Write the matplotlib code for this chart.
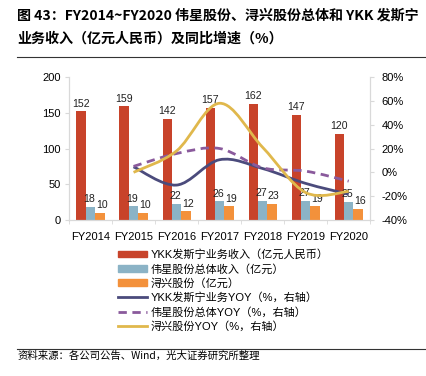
import numpy as np
import matplotlib
matplotlib.use('Agg')
from matplotlib import pyplot as plt
from matplotlib.path import Path
from matplotlib.patches import PathPatch, Patch
from matplotlib.lines import Line2D

plt.rcParams['font.family'] = ['Liberation Sans', 'Noto Sans CJK SC']

# data
years = ['FY2014', 'FY2015', 'FY2016', 'FY2017', 'FY2018', 'FY2019', 'FY2020']
ykk_rev = [152, 159, 142, 157, 162, 147, 120]
wx_rev = [18, 19, 22, 26, 27, 27, 25]
xx_rev = [10, 10, 12, 19, 23, 19, 16]
# YOY from FY2015 on (right axis, %)
ykk_yoy = [4.6, -10.7, 10.6, 3.2, -9.3, -18.4]
wx_yoy = [5.0, 15.8, 20.0, 3.8, 1.0, -7.4]
xx_yoy = [0.0, 18.0, 58.0, 21.0, -17.0, -16.0]

c_red = '#C8432A'
c_blue = '#8BB3C6'
c_orange = '#F3913B'
c_navy = '#4B4B7C'
c_purple = '#8A5A9C'
c_yellow = '#E0B84C'
c_axis = '#D9D9D9'


def smooth_path(x, y):
    # excel style smoothed line: catmull-rom as cubic bezier segments
    pts = np.column_stack([x, y]).astype(float)
    ext = np.vstack([pts[0], pts, pts[-1]])
    verts = [pts[0]]
    codes = [Path.MOVETO]
    for i in range(1, len(ext) - 2):
        p0, p1, p2, p3 = ext[i - 1], ext[i], ext[i + 1], ext[i + 2]
        verts += [p1 + (p2 - p0) / 6, p2 - (p3 - p1) / 6, p2]
        codes += [Path.CURVE4] * 3
    return Path(verts, codes)


fig = plt.figure(figsize=(4.26, 3.76), dpi=100)
ax1 = fig.add_axes([0.162, 0.415, 0.707, 0.380])
ax2 = ax1.twinx()

x = np.arange(len(years))
w = 0.218
b1 = ax1.bar(x - w, ykk_rev, w, color=c_red, zorder=2)
b2 = ax1.bar(x, wx_rev, w, color=c_blue, zorder=2)
b3 = ax1.bar(x + w, xx_rev, w, color=c_orange, zorder=2)
for bars, vals, dx in [(b1, ykk_rev, 0), (b2, wx_rev, -1.2), (b3, xx_rev, 1.2)]:
    for r, v in zip(bars, vals):
        ax1.annotate(str(v), (r.get_x() + r.get_width() / 2, v), xytext=(dx, 2),
                     textcoords='offset points', ha='center', va='bottom',
                     fontsize=7.6, color='#222222', zorder=5)

ax1.set_xlim(-0.5, len(years) - 0.5)
ax1.set_ylim(0, 200)
ax1.set_yticks([0, 50, 100, 150, 200])
ax1.set_xticks(x)
ax1.set_xticklabels(years)
ax1.set_xticks(np.arange(-0.5, len(years), 1), minor=True)
ax1.tick_params(axis='x', which='major', length=0, pad=9, labelsize=8)
ax1.tick_params(axis='x', which='minor', length=3, color=c_axis)
ax1.tick_params(axis='y', length=3, color=c_axis, labelsize=8, pad=3)

ax2.set_ylim(-40, 80)
ax2.set_yticks([-40, -20, 0, 20, 40, 60, 80])
ax2.set_yticklabels(['%d%%' % t for t in [-40, -20, 0, 20, 40, 60, 80]])
ax2.tick_params(axis='y', length=3, color=c_axis, labelsize=8, pad=5)

for a in (ax1, ax2):
    a.spines['top'].set_visible(False)
    for s in ('left', 'right', 'bottom'):
        a.spines[s].set_color(c_axis)
        a.spines[s].set_linewidth(0.8)

xl = x[1:]
ax2.add_patch(PathPatch(smooth_path(xl, ykk_yoy), fill=False, ec=c_navy, lw=2, zorder=3))
ax2.add_patch(PathPatch(smooth_path(xl, wx_yoy), fill=False, ec=c_purple, lw=2,
                        ls=(0, (3, 2)), zorder=3))
ax2.add_patch(PathPatch(smooth_path(xl, xx_yoy), fill=False, ec=c_yellow, lw=2, zorder=3))

handles = [Patch(color=c_red), Patch(color=c_blue), Patch(color=c_orange),
           Line2D([], [], color=c_navy, lw=2),
           Line2D([], [], color=c_purple, lw=2, ls=(0, (3, 2))),
           Line2D([], [], color=c_yellow, lw=2)]
labels = ['YKK发斯宁业务收入（亿元人民币）', '伟星股份总体收入（亿元）', '浔兴股份（亿元）',
          'YKK发斯宁业务YOY（%，右轴）', '伟星股份总体YOY（%，右轴）', '浔兴股份YOY（%，右轴）']
fig.legend(handles, labels, loc='upper left', bbox_to_anchor=(0.277, 0.337),
           frameon=False, fontsize=8, handlelength=2.6, handleheight=0.55,
           handletextpad=0.3, labelspacing=0.33, borderpad=0, borderaxespad=0)

fig.text(0.04, 0.958, '图 43：FY2014~FY2020 伟星股份、浔兴股份总体和 YKK 发斯宁',
         fontsize=10.1, fontweight='bold', family=['Noto Sans CJK SC'], va='center')
fig.text(0.04, 0.897, '业务收入（亿元人民币）及同比增速（%）',
         fontsize=10.1, fontweight='bold', family=['Noto Sans CJK SC'], va='center')
fig.add_artist(Line2D([0.04, 1.0], [0.848, 0.848], color='#333333', lw=0.8))
fig.add_artist(Line2D([0.04, 1.0], [0.072, 0.072], color='#333333', lw=0.8))
fig.text(0.04, 0.053, '资料来源：各公司公告、Wind，光大证券研究所整理',
         fontsize=7.5, family=['Noto Sans CJK SC'], va='center')

fig.savefig('out.png', dpi=100)
